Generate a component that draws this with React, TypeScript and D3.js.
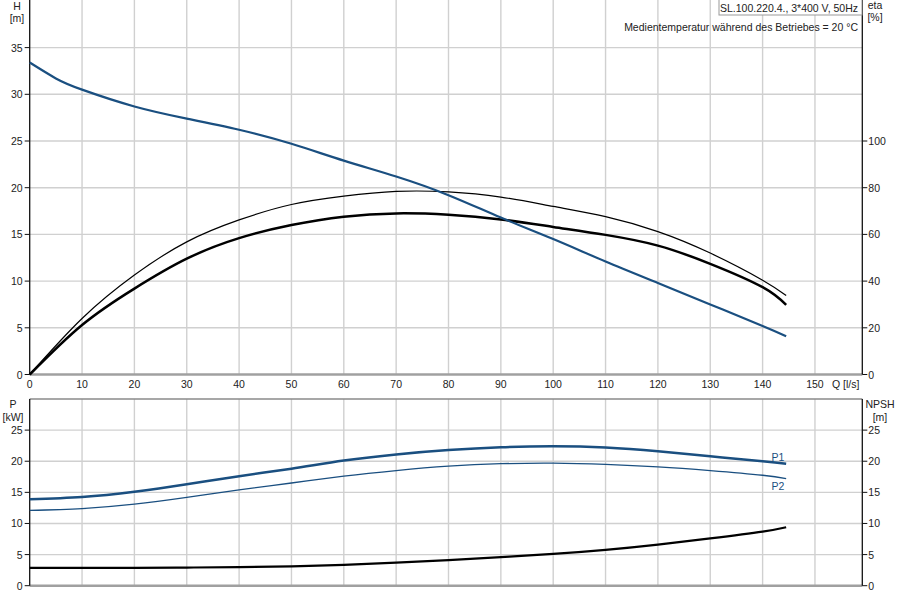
import * as d3 from 'd3'

// Pump curves (Q in l/s)
const qHead = [0, 5, 10, 20, 30, 40, 50, 60, 70, 80, 90, 100, 110, 120, 130, 140, 144.5]
const head = [33.4, 31.7, 30.5, 28.7, 27.4, 26.2, 24.7, 22.9, 21.2, 19.2, 16.8, 14.5, 12.1, 9.8, 7.5, 5.2, 4.1]

const qEta = [0, 10, 20, 30, 40, 50, 60, 70, 80, 90, 100, 110, 120, 130, 140, 144.5]
const etaThin = [0, 24, 42.6, 56.8, 66.2, 72.8, 76.4, 78.4, 78.2, 76, 72, 67.6, 61.2, 52, 40.4, 33.8]
const etaThick = [0, 21.2, 36.8, 49.6, 58.4, 64, 67.6, 69, 68.4, 66.4, 63.2, 59.8, 55.2, 47.4, 37.4, 29.8]

const qPower = [0, 10, 20, 30, 40, 50, 60, 70, 80, 90, 100, 110, 120, 130, 140, 144.5]
const p1 = [13.9, 14.25, 15.1, 16.3, 17.6, 18.8, 20.1, 21.1, 21.8, 22.25, 22.4, 22.2, 21.6, 20.8, 20.0, 19.6]
const p2 = [12.1, 12.4, 13.1, 14.2, 15.4, 16.5, 17.6, 18.5, 19.2, 19.6, 19.7, 19.5, 19.1, 18.5, 17.75, 17.2]
const npsh = [2.85, 2.85, 2.87, 2.92, 2.98, 3.1, 3.35, 3.7, 4.1, 4.6, 5.1, 5.75, 6.6, 7.6, 8.7, 9.4]

const qTicks = [0, 10, 20, 30, 40, 50, 60, 70, 80, 90, 100, 110, 120, 130, 140, 150]
const hTicks = [0, 5, 10, 15, 20, 25, 30, 35]
const etaTicks = [0, 20, 40, 60, 80, 100]
const pTicks = [0, 5, 10, 15, 20, 25]

const title = 'SL.100.220.4., 3*400 V, 50Hz'
const subtitle = 'Medientemperatur während des Betriebes = 20 °C'

const BLUE = '#1a4f80'
const GRID = '#d0d0d0'
const FONT = 'Liberation Sans, Arial, sans-serif'

export default function App() {
  const left = 29.7
  const right = 862.3
  const topY0 = 374.5
  const botY0 = 585.7
  const botTop = 399

  // x: 10 l/s = 52.35 px
  const x = d3.scaleLinear().domain([0, (right - left) / 5.235]).range([left, right])
  const yH = d3.scaleLinear().domain([0, 40]).range([topY0, topY0 - 40 * 9.34])
  const yEta = d3.scaleLinear().domain([0, 160]).range([topY0, topY0 - 40 * 9.34])
  const yP = d3.scaleLinear().domain([0, 30]).range([botY0, botTop])

  const mk = (xs: number[], ys: number[], y: d3.ScaleLinear<number, number>) =>
    d3
      .line<number>()
      .x((_, i) => x(xs[i]))
      .y((d) => y(d))
      .curve(d3.curveNatural)(ys) ?? ''

  const txt = { fontFamily: FONT, fontSize: 10.5, fill: '#222' }

  return (
    <svg width={900} height={600} style={{ position: 'absolute', left: 0, top: 0, background: '#fff' }}>
      <rect x={0} y={0} width={900} height={600} fill="#fff" />

      {/* top grid */}
      {qTicks.slice(1).map((q) => (
        <line key={'tv' + q} x1={x(q)} x2={x(q)} y1={0} y2={topY0} stroke={GRID} strokeWidth={1.4} />
      ))}
      {hTicks.slice(1).map((h) => (
        <line key={'th' + h} x1={left} x2={right} y1={yH(h)} y2={yH(h)} stroke={GRID} strokeWidth={1.4} />
      ))}

      {/* bottom grid */}
      {qTicks.slice(1).map((q) => (
        <line key={'bv' + q} x1={x(q)} x2={x(q)} y1={botTop} y2={botY0} stroke={GRID} strokeWidth={1.4} />
      ))}
      {pTicks.slice(1).map((p) => (
        <line key={'bh' + p} x1={left} x2={right} y1={yP(p)} y2={yP(p)} stroke={GRID} strokeWidth={1.4} />
      ))}

      {/* frame lines */}
      <line x1={left} x2={right} y1={topY0} y2={topY0} stroke="#a0a0a0" strokeWidth={2.5} />
      <line x1={left} x2={right} y1={botY0} y2={botY0} stroke="#a0a0a0" strokeWidth={2.5} />
      <line x1={left} x2={right} y1={botTop} y2={botTop} stroke="#8a8a8a" strokeWidth={1.5} />
      <line x1={left} x2={left} y1={0} y2={topY0} stroke="#111" strokeWidth={1.3} />
      <line x1={right} x2={right} y1={0} y2={topY0} stroke="#111" strokeWidth={1.3} />
      <line x1={left} x2={left} y1={botTop} y2={botY0} stroke="#111" strokeWidth={1.3} />
      <line x1={right} x2={right} y1={botTop} y2={botY0} stroke="#111" strokeWidth={1.3} />

      {/* left H ticks */}
      {hTicks.map((h) => (
        <g key={'hl' + h}>
          <line x1={left - 5} x2={left} y1={yH(h)} y2={yH(h)} stroke="#111" />
          <text x={left - 7} y={yH(h) + 4} textAnchor="end" {...txt}>{h}</text>
        </g>
      ))}
      {/* right eta ticks */}
      {etaTicks.map((e) => (
        <g key={'er' + e}>
          <line x1={right} x2={right + 5} y1={yEta(e)} y2={yEta(e)} stroke="#111" />
          <text x={right + 6} y={yEta(e) + 4} {...txt}>{e}</text>
        </g>
      ))}
      {/* bottom left/right ticks */}
      {pTicks.map((p) => (
        <g key={'pl' + p}>
          <line x1={left - 5} x2={left} y1={yP(p)} y2={yP(p)} stroke="#111" />
          <text x={left - 7} y={yP(p) + 4} textAnchor="end" {...txt}>{p}</text>
          <line x1={right} x2={right + 5} y1={yP(p)} y2={yP(p)} stroke="#111" />
          <text x={right + 6} y={yP(p) + 4} {...txt}>{p}</text>
        </g>
      ))}

      {/* x tick labels */}
      {qTicks.map((q) => (
        <text key={'xl' + q} x={x(q)} y={388} textAnchor="middle" {...txt}>{q}</text>
      ))}
      <text x={832} y={388} {...txt}>Q [l/s]</text>

      {/* axis titles */}
      <text x={17} y={10} textAnchor="middle" {...txt}>H</text>
      <text x={17} y={22} textAnchor="middle" {...txt}>[m]</text>
      <text x={875} y={9} textAnchor="middle" {...txt}>eta</text>
      <text x={875} y={21} textAnchor="middle" {...txt}>[%]</text>
      <text x={13} y={408} textAnchor="middle" {...txt}>P</text>
      <text x={13} y={421} textAnchor="middle" {...txt}>[kW]</text>
      <text x={880} y={408} textAnchor="middle" {...txt}>NPSH</text>
      <text x={880} y={421} textAnchor="middle" {...txt}>[m]</text>

      {/* title box */}
      <rect x={719} y={-1} width={143} height={16} fill="#fff" stroke="#999" />
      <text x={858} y={11.5} textAnchor="end" {...txt}>{title}</text>
      <text x={858} y={31} textAnchor="end" {...txt}>{subtitle}</text>

      {/* top curves */}
      <path d={mk(qEta, etaThin, yEta)} fill="none" stroke="#000" strokeWidth={1.2} />
      <path d={mk(qEta, etaThick, yEta)} fill="none" stroke="#000" strokeWidth={2.5} />
      <path d={mk(qHead, head, yH)} fill="none" stroke={BLUE} strokeWidth={2.2} />

      {/* bottom curves */}
      <path d={mk(qPower, p1, yP)} fill="none" stroke={BLUE} strokeWidth={2.5} />
      <path d={mk(qPower, p2, yP)} fill="none" stroke={BLUE} strokeWidth={1.3} />
      <path d={mk(qPower, npsh, yP)} fill="none" stroke="#000" strokeWidth={2.2} />
      <text x={778} y={461} textAnchor="middle" {...txt} fill={BLUE}>P1</text>
      <text x={778} y={490} textAnchor="middle" {...txt} fill={BLUE}>P2</text>
    </svg>
  )
}
